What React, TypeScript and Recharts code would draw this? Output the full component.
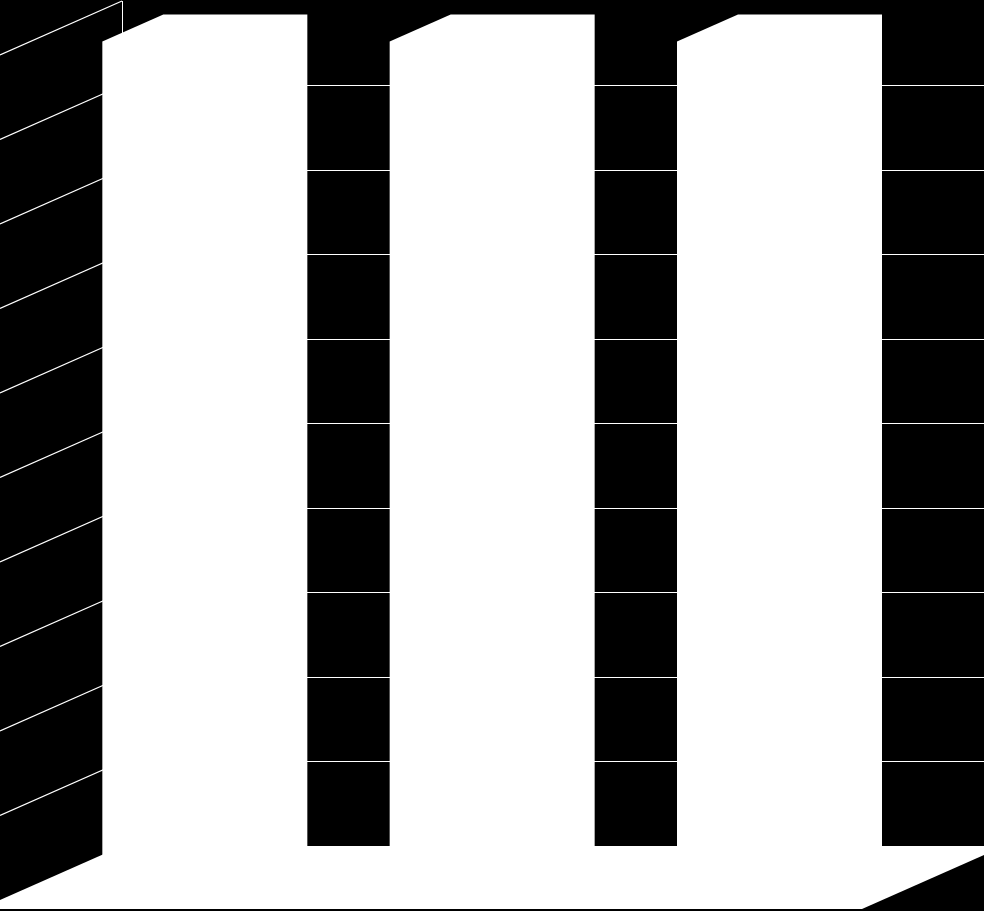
import React from 'react';
import { BarChart, Bar, XAxis, YAxis, CartesianGrid } from 'recharts';

// three categories, all at full height of the axis
const categories = ['A', 'B', 'C'];
const values = [100, 100, 100];
const yTicks = [0, 10, 20, 30, 40, 50, 60, 70, 80, 90, 100];

const W = 984;
const H = 911;
const MARGIN = { top: 55, right: 122, bottom: 11, left: 0 };
// 3D depth offset of the back wall relative to the front plane
const DX = 122;
const DY = -54;
const PLOT_TOP = MARGIN.top;
const PLOT_BOTTOM = H - MARGIN.bottom;
const FLOOR_THICK = 9;

const chartData = categories.map((c, i) => ({ name: c, value: values[i] }));

// grid line renderer: back wall line + left wall diagonal, plus frame pieces
const WallLine = (props: any) => {
  const { x1, x2, y1 } = props;
  const isTop = Math.abs(y1 - PLOT_TOP) < 1;
  const isBottom = Math.abs(y1 - PLOT_BOTTOM) < 1;
  if (isBottom) {
    return (
      <polygon
        points={`${x1},${y1} ${x1 + DX},${y1 + DY} ${x2 + DX},${y1 + DY} ${x2 + DX},${y1 + DY + FLOOR_THICK} ${x2},${y1 + FLOOR_THICK} ${x1},${y1 + FLOOR_THICK}`}
        fill="#fff"
      />
    );
  }
  return (
    <g>
      {!isTop && (
        <line
          x1={x1 + DX}
          y1={y1 + DY}
          x2={x2 + DX}
          y2={y1 + DY}
          stroke="#fff"
          strokeWidth={1}
          shapeRendering="crispEdges"
        />
      )}
      <line x1={x1} y1={y1} x2={x1 + DX} y2={y1 + DY} stroke="#fff" strokeWidth={1.2} />
      {isTop && (
        <line
          x1={x1 + DX}
          y1={y1 + DY}
          x2={x1 + DX}
          y2={PLOT_BOTTOM + DY}
          stroke="#fff"
          strokeWidth={1}
          shapeRendering="crispEdges"
        />
      )}
    </g>
  );
};

// bar drawn as a white block sitting in the middle of the depth
const Block = (props: any) => {
  const { x, y, width, height } = props;
  const f = 0.25;
  const g = 0.75;
  const fx = x + DX * f;
  const fy = y + DY * f;
  const bx = x + DX * g;
  const by = y + DY * g;
  const pts = [
    [fx, fy],
    [bx, by],
    [bx + width, by],
    [bx + width, by + height],
    [fx + width, fy + height],
    [fx, fy + height],
  ]
    .map((p) => p.join(','))
    .join(' ');
  return <polygon points={pts} fill="#fff" />;
};

export default function App() {
  return (
    <div style={{ position: 'absolute', left: 0, top: 0, width: W, height: H, background: '#000' }}>
      <BarChart width={W} height={H} data={chartData} margin={MARGIN} barCategoryGap="25%">
        <CartesianGrid vertical={false} horizontal={(p: any) => <WallLine key={p.key} {...p} />} />
        <XAxis dataKey="name" hide />
        <YAxis hide domain={[0, 100]} ticks={yTicks} />
        <Bar dataKey="value" shape={(p: any) => <Block {...p} />} isAnimationActive={false} />
      </BarChart>
    </div>
  );
}
